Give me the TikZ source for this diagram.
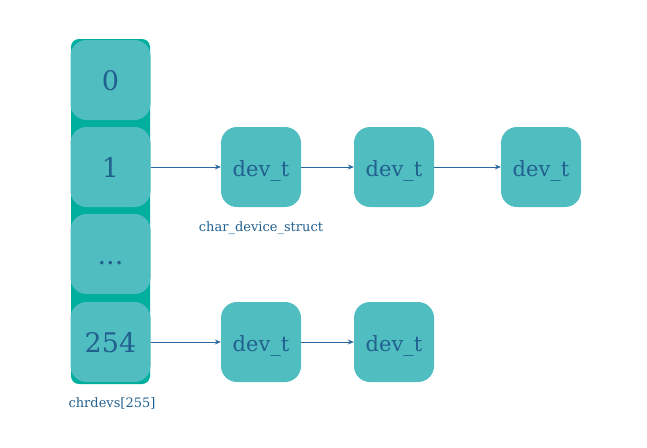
\documentclass[tikz,border=0pt]{standalone}
\usepackage{fontspec}
\setmainfont{DejaVu Serif}
\usetikzlibrary{arrows.meta}
\definecolor{outerc}{HTML}{00AE9D}
\definecolor{innerc}{HTML}{50BDC0}
\definecolor{txtc}{HTML}{21608F}
\definecolor{arrc}{HTML}{2A69A0}
\tikzset{
  slot/.style={fill=innerc, draw=none, rounded corners=16pt, minimum width=80pt, minimum height=80pt, inner sep=0pt, text=txtc, font=\fontsize{27}{30}\selectfont, text height=20pt, text depth=0pt},
  devbox/.style={fill=innerc, draw=none, rounded corners=16pt, minimum width=80pt, minimum height=80pt, inner sep=0pt, text=txtc, font=\fontsize{21}{25}\selectfont, text height=18pt, text depth=0pt},
  lbl/.style={text=txtc, font=\fontsize{13}{15}\selectfont, inner sep=0pt},
  link/.style={draw=arrc, line width=0.8pt, -{Stealth[length=6pt,width=5pt]}}
}
\begin{document}
\begin{tikzpicture}[x=1pt,y=-1pt]
\useasboundingbox (0,0) rectangle (647,447);
\fill[outerc, rounded corners=8pt] (71,39) rectangle (150,384);
\node[slot] (s0) at (110.5,80) {0};
\node[slot] (s1) at (110.5,167) {1};
\node[slot] (s2) at (110.5,254) {...};
\node[slot] (s3) at (110.5,342) {254};
\node[devbox] (a1) at (261,167) {dev\_t};
\node[devbox] (a2) at (394,167) {dev\_t};
\node[devbox] (a3) at (541,167) {dev\_t};
\node[devbox] (b1) at (261,342) {dev\_t};
\node[devbox] (b2) at (394,342) {dev\_t};
\node[lbl] (l1) at (261,228) {char\_device\_struct};
\node[lbl] (l2) at (112,403) {chrdevs[255]};
\draw[link] (s1.east) -- (a1.west);
\draw[link] (a1.east) -- (a2.west);
\draw[link] (a2.east) -- (a3.west);
\draw[link] (s3.east) -- (b1.west);
\draw[link] (b1.east) -- (b2.west);
\end{tikzpicture}
\end{document}
